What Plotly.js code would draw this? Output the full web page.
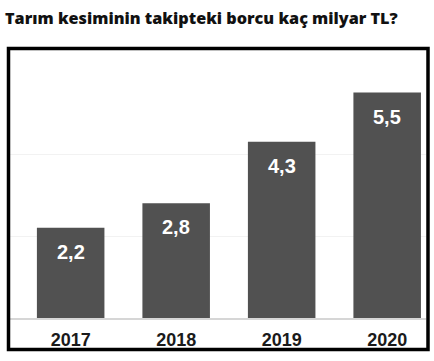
<!DOCTYPE html>
<html>
<head>
<meta charset="utf-8">
<script src="https://cdn.plot.ly/plotly-3.0.1.min.js"></script>
<style>
html,body{margin:0;padding:0;background:#fff;}
#chart{width:434px;height:361px;}
</style>
</head>
<body>
<div id="chart"></div>
<script>
const categories = ['2017', '2018', '2019', '2020'];
const values = [2.2, 2.8, 4.3, 5.5];
const titleText = 'Tarım kesiminin takipteki borcu kaç milyar TL?';

const W = 434, H = 361;
const m = {l: 10, r: 8, t: 72, b: 43};
const pw = W - m.l - m.r, ph = H - m.t - m.b;
function px(x) { return (x - m.l) / pw; }
function py(y) { return (H - m.b - y) / ph; }

const labels = values.map(v => v.toFixed(1).replace('.', ','));

const trace = {
  type: 'bar',
  x: [0, 1, 2, 3],
  y: values,
  marker: {color: '#515151', line: {width: 0}},
  hoverinfo: 'none'
};

const annotations = values.map((v, i) => ({
  x: i, y: v, xref: 'x', yref: 'y',
  text: labels[i],
  showarrow: false,
  yanchor: 'middle',
  yshift: -24,
  font: {family: 'Liberation Sans, Arial, sans-serif', size: 20, color: '#ffffff', weight: 'bold'}
}));

const layout = {
  width: W, height: H,
  margin: m,
  paper_bgcolor: '#ffffff',
  plot_bgcolor: '#ffffff',
  showlegend: false,
  bargap: 0.36,
  title: {
    text: titleText,
    x: 5 / W, xanchor: 'left', xref: 'container',
    y: 1 - 18 / H, yanchor: 'middle', yref: 'container',
    font: {family: 'Open Sans, sans-serif', size: 16.2, color: '#111111', weight: 800}
  },
  xaxis: {
    range: [-0.575, 3.368],
    tickvals: [0, 1, 2, 3],
    ticktext: categories,
    ticks: '',
    ticklabelstandoff: 5,
    showgrid: false,
    zeroline: false,
    showline: true,
    linecolor: '#d6d6d6',
    linewidth: 1.5,
    tickfont: {family: 'Liberation Sans, Arial, sans-serif', size: 18, color: '#1a1a1a', weight: 'bold'},
    fixedrange: true
  },
  yaxis: {
    range: [0, 6],
    dtick: 2,
    showticklabels: false,
    ticks: '',
    showgrid: true,
    gridcolor: '#f2f2f2',
    gridwidth: 1,
    zeroline: false,
    showline: false,
    fixedrange: true
  },
  annotations: annotations,
  shapes: [{
    type: 'rect', xref: 'paper', yref: 'paper',
    x0: px(8.5), x1: px(428), y0: py(349.5), y1: py(48.5),
    line: {color: '#000000', width: 3.5},
    fillcolor: 'rgba(0,0,0,0)'
  }]
};

Plotly.newPlot('chart', [trace], layout, {displayModeBar: false, staticPlot: true});
</script>
</body>
</html>
